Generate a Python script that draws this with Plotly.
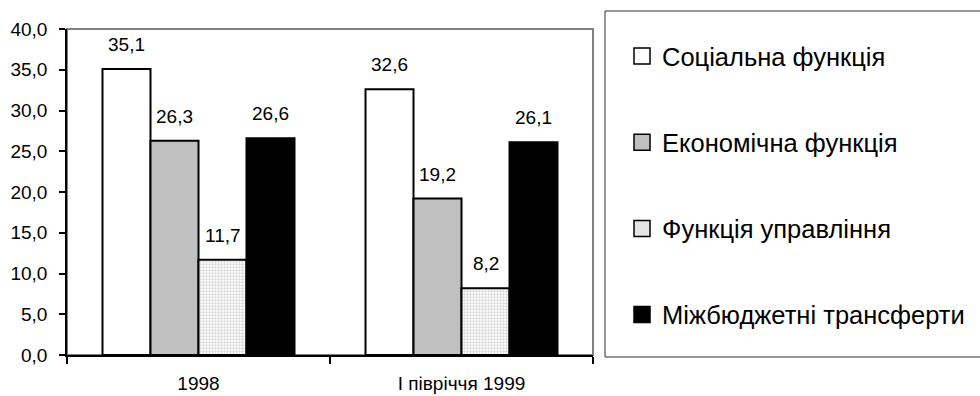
import plotly.graph_objects as go

# Структура видатків, %
categories = ["1998", "І півріччя 1999"]
series_names = [
    "Соціальна функція",
    "Економічна функція",
    "Функція управління",
    "Міжбюджетні трансферти",
]
social = [35.1, 32.6]
economic = [26.3, 19.2]
management = [11.7, 8.2]
transfers = [26.6, 26.1]
y_ticks = [0, 5, 10, 15, 20, 25, 30, 35, 40]

series_values = [social, economic, management, transfers]

FONT = "Liberation Sans, Arial, sans-serif"
W, H = 980, 396
M_L, M_R, M_T, M_B = 67, 387, 29, 41
BARGAP = 0.27

fills = ["#ffffff", "#c0c0c0", "#ffffff", "#000000"]
legend_fills = ["#ffffff", "#c0c0c0", "#e4e4e4", "#000000"]

fig = go.Figure()

for i, (name, vals) in enumerate(zip(series_names, series_values)):
    marker = dict(color=fills[i], line=dict(color="#000000", width=2))
    if i == 2:
        marker["pattern"] = dict(shape=".", size=3, solidity=0.45,
                                 fgcolor="#a8a8a8", bgcolor="#ffffff",
                                 fillmode="overlay")
    fig.add_trace(go.Bar(x=categories, y=vals, name=name, marker=marker,
                         showlegend=False, hoverinfo="x+y"))

# Legend swatches
for i, name in enumerate(series_names):
    fig.add_trace(go.Scatter(
        x=[None], y=[None], mode="markers", name=name, legendgroup=f"g{i}",
        marker=dict(symbol="square", size=16, color=legend_fills[i],
                    line=dict(color="#000000", width=1.5)),
    ))

# Value labels above each bar
n = len(series_values)
slot = (1 - BARGAP) / n
annotations = []
for i, vals in enumerate(series_values):
    for j, v in enumerate(vals):
        annotations.append(dict(
            x=j - (1 - BARGAP) / 2 + (i + 0.5) * slot, y=v,
            xref="x", yref="y", text=f"{v:.1f}".replace(".", ","),
            showarrow=False, yanchor="bottom", yshift=12,
            font=dict(family=FONT, size=19, color="#000000"),
        ))

pw = W - M_L - M_R
ph = H - M_T - M_B


def px_x(p):
    return (p - M_L) / pw


def px_y(p):
    return (H - M_B - p) / ph


shapes = [
    # plot frame (top and right edges in grey)
    dict(type="rect", xref="paper", yref="paper", x0=0, x1=1, y0=0, y1=1,
         line=dict(color="#808080", width=2), layer="below"),
    # legend frame
    dict(type="rect", xref="paper", yref="paper",
         x0=px_x(605), x1=px_x(992), y0=px_y(357), y1=px_y(11),
         line=dict(color="#303030", width=1), fillcolor="rgba(0,0,0,0)"),
]

fig.update_layout(
    width=W, height=H,
    margin=dict(l=M_L, r=M_R, t=M_T, b=M_B, pad=0, autoexpand=False),
    paper_bgcolor="#ffffff", plot_bgcolor="#ffffff",
    barmode="group", bargap=BARGAP, bargroupgap=0,
    separators=", ",
    font=dict(family=FONT, size=19, color="#000000"),
    annotations=annotations,
    shapes=shapes,
    legend=dict(
        xref="container", yref="container",
        x=622 / W, y=1 - 33 / H, xanchor="left", yanchor="top",
        bgcolor="rgba(0,0,0,0)", borderwidth=0,
        font=dict(family=FONT, size=25.5, color="#000000"),
        itemsizing="trace", tracegroupgap=50, maxheight=H,
    ),
    xaxis=dict(
        type="category", showgrid=False, zeroline=False, automargin=False,
        showline=True, linecolor="#000000", linewidth=1.5,
        ticks="outside", tickson="boundaries", ticklen=7,
        tickcolor="#000000", tickwidth=1.5,
        ticklabelstandoff=10,
        tickfont=dict(family=FONT, size=19, color="#000000"),
        fixedrange=True,
    ),
    yaxis=dict(
        range=[0, 40], tickvals=y_ticks, tickformat=".1f",
        showgrid=False, zeroline=False, automargin=False,
        showline=True, linecolor="#000000", linewidth=1.5,
        ticks="outside", ticklen=6, tickcolor="#000000", tickwidth=1.5,
        ticklabelstandoff=8,
        tickfont=dict(family=FONT, size=19, color="#000000"),
        fixedrange=True,
    ),
)

fig.write_html("out.html", config={"displayModeBar": False})
